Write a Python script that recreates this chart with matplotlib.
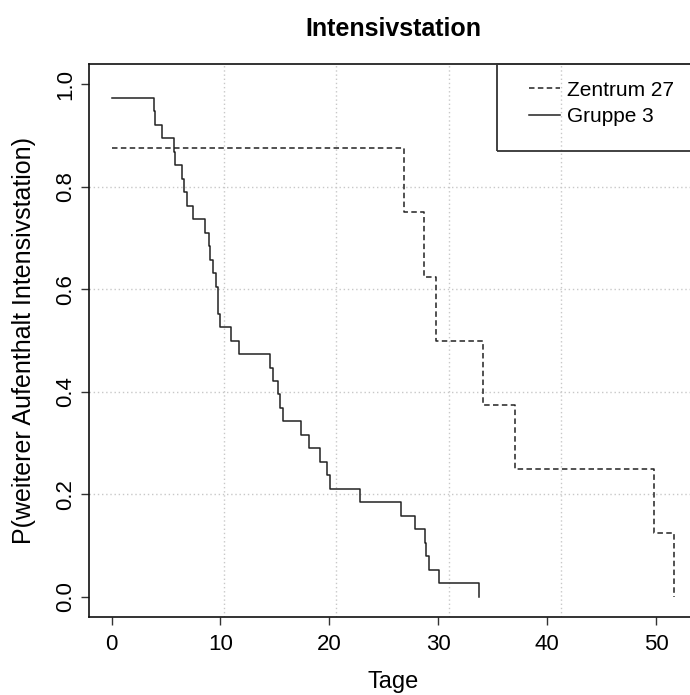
import matplotlib
matplotlib.use("Agg")
import matplotlib.pyplot as plt
from matplotlib.patches import Rectangle
from matplotlib.lines import Line2D

plt.rcParams["font.family"] = ["Liberation Sans", "DejaVu Sans"]

# Kaplan-Meier style step data (time in days, remaining probability)
zentrum_t = [0, 26.84, 28.68, 29.75, 34.14, 37.03, 49.82, 51.66]
zentrum_s = [7 / 8, 6 / 8, 5 / 8, 4 / 8, 3 / 8, 2 / 8, 1 / 8, 0]

gruppe_t = [0, 3.94, 4.03, 4.61, 5.71, 5.86, 6.47, 6.62, 6.93, 7.45,
            8.61, 8.95, 9.07, 9.31, 9.56, 9.74, 9.80, 9.92, 11.00, 11.68,
            14.56, 14.86, 15.26, 15.42, 15.72, 17.38, 18.15, 19.13, 19.80, 20.08,
            22.81, 26.58, 27.84, 28.73, 28.85, 29.10, 30.05, 33.76]
gruppe_s = [(38 - k) / 38 for k in range(1, 39)]

x_ticks = [0, 10, 20, 30, 40, 50]
y_ticks = [0.0, 0.2, 0.4, 0.6, 0.8, 1.0]
y_ticklabels = ["0.0", "0.2", "0.4", "0.6", "0.8", "1.0"]
x_grid = [10.32, 20.64, 30.96, 41.28]
y_grid = [0.2, 0.4, 0.6, 0.8]
labels = ["Zentrum 27", "Gruppe 3"]

fig = plt.figure(figsize=(6.9, 6.95), dpi=100)
ax = fig.add_axes([0.129, 0.112, 0.881, 0.796])

for xg in x_grid:
    ax.axvline(xg, color="#c8c8c8", lw=1.0, ls=(0, (1, 2)), zorder=1)
for yg in y_grid:
    ax.axhline(yg, color="#c8c8c8", lw=1.0, ls=(0, (1, 2)), zorder=1)

dash = (0, (3.6, 2.2))
ax.step(zentrum_t, zentrum_s, where="post", color="#222222", lw=1.1, ls=dash, zorder=3)
ax.step(gruppe_t, gruppe_s, where="post", color="#222222", lw=1.1, zorder=3)

ax.set_xlim(-2.066, 53.73)
ax.set_ylim(-0.04, 1.04)
ax.set_xticks(x_ticks)
ax.set_xticklabels([str(v) for v in x_ticks], fontsize=16)
ax.set_yticks(y_ticks)
ax.set_yticklabels(y_ticklabels, fontsize=16, rotation=90, va="center")
ax.tick_params(axis="both", length=6, width=1.0, color="#333333")
ax.tick_params(axis="x", pad=6)
ax.tick_params(axis="y", pad=3)
for sp in ax.spines.values():
    sp.set_linewidth(1.2)
    sp.set_color("#111111")

ax.set_xlabel("Tage", fontsize=17)
ax.xaxis.set_label_coords(0.5, -0.097)
ax.set_ylabel("P(weiterer Aufenthalt Intensivstation)", fontsize=18)
ax.yaxis.set_label_coords(-0.088, 0.5)
ax.set_title("Intensivstation", fontsize=18, fontweight="bold", pad=20)

# legend box as in R legend("topright")
ax.add_patch(Rectangle((0.671, 0.843), 0.34, 0.157, transform=ax.transAxes,
                       fill=False, edgecolor="#333333", lw=1.3, zorder=4, clip_on=False))
handles = [Line2D([], [], color="#222222", lw=1.1, ls=dash),
           Line2D([], [], color="#222222", lw=1.1)]
leg = ax.legend(handles, labels, loc="upper left", bbox_to_anchor=(0.71, 0.985),
                frameon=False, fontsize=15, handlelength=1.5, handletextpad=0.35,
                labelspacing=0.35, borderaxespad=0)

fig.savefig("out.png", dpi=100)
